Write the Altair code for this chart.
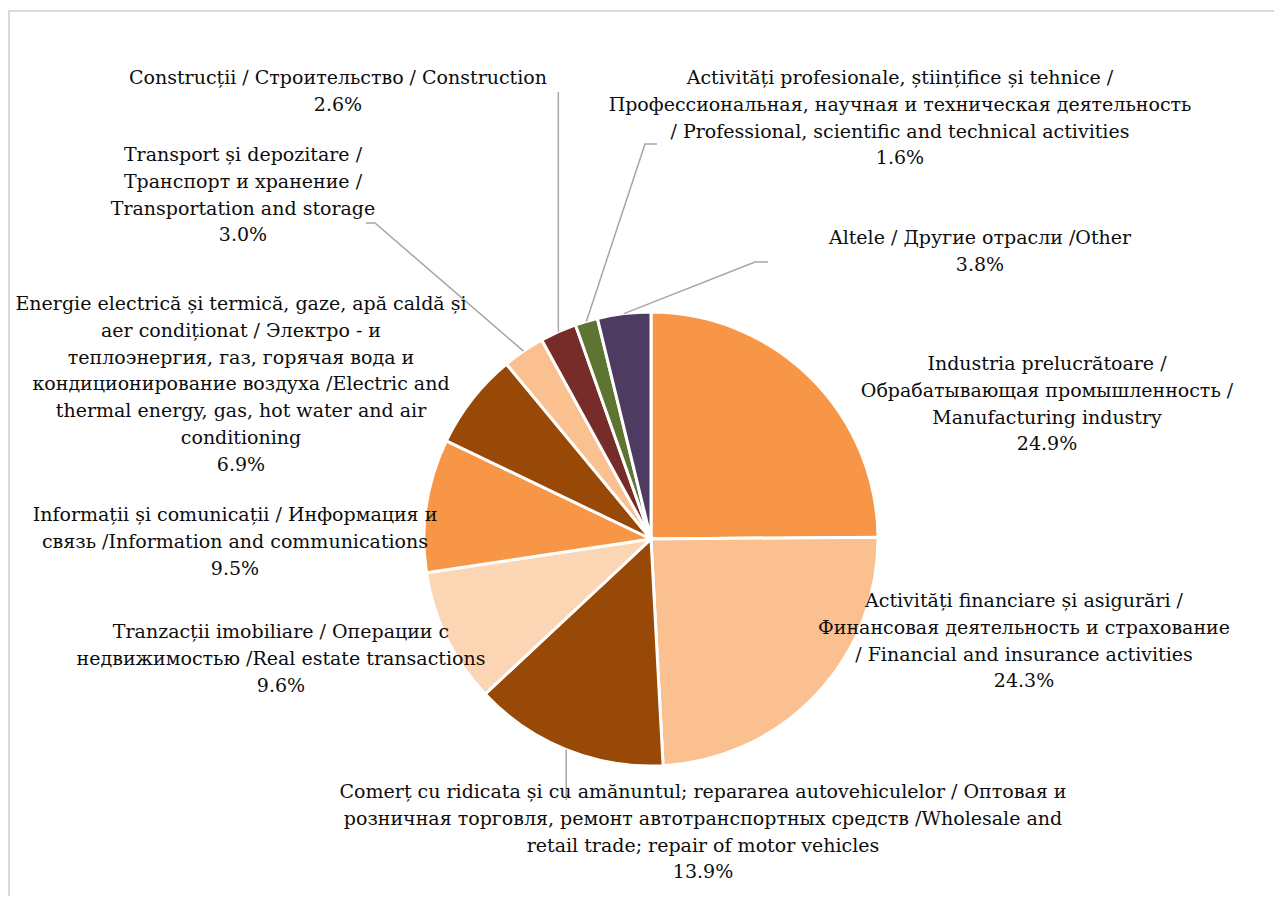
import math
import altair as alt
import pandas as pd

# ---------------- data ----------------
categories = [
    "Manufacturing", "Financial", "Commerce", "RealEstate", "Information",
    "Energy", "Transport", "Construction", "Professional", "Other",
]
values = [24.9, 24.3, 13.9, 9.6, 9.5, 6.9, 3.0, 2.6, 1.6, 3.8]
label_lines = [
    ["Industria prelucrătoare /", "Обрабатывающая промышленность /", "Manufacturing industry"],
    ["Activități financiare și asigurări  /", "Финансовая деятельность и страхование",
     "/ Financial and insurance activities"],
    ["Comerț cu ridicata și cu amănuntul; repararea autovehiculelor / Оптовая и",
     "розничная торговля,  ремонт автотранспортных средств /Wholesale and",
     "retail trade; repair of motor vehicles"],
    ["Tranzacții imobiliare / Операции с", "недвижимостью /Real estate transactions"],
    ["Informații și comunicații / Информация и", "связь /Information and communications"],
    ["Energie electrică și termică, gaze, apă caldă și", "aer condiționat / Электро - и",
     "теплоэнергия, газ, горячая вода и", "кондиционирование воздуха /Electric and",
     "thermal energy, gas, hot water and air", "conditioning"],
    ["Transport și depozitare /", "Транспорт  и хранение /", "Transportation and storage"],
    ["Construcții / Строительство / Construction"],
    ["Activități profesionale, științifice și tehnice /",
     "Профессиональная, научная и техническая деятельность",
     "/ Professional, scientific and technical activities"],
    ["Altele / Другие отрасли /Other"],
]
colors = ["#F79646", "#FAC090", "#984807", "#FCD5B5", "#F79646",
          "#984807", "#FAC090", "#772C2A", "#5E7431", "#4D3B61"]

# ---------------- layout (screen pixels) ----------------
OFF = 8                      # page margin
CX, CY, R = 651, 539, 227    # pie centre and radius
FONT = "DejaVu Serif"
FS = 19
LH = 26.8
label_pos = {                # centre of first line of each label
    "Manufacturing": (1047, 364),
    "Financial": (1024, 601),
    "Commerce": (703, 792),
    "RealEstate": (281, 632),
    "Information": (235, 515),
    "Energy": (241, 304),
    "Transport": (243, 155),
    "Construction": (338, 78),
    "Professional": (900, 78),
    "Other": (980, 238),
}
# leader line bends / ends; None x means "same x as start"
leader_ends = {
    "Construction": [(None, 92)],
    "Professional": [(645, 144), (657, 144)],
    "Other": [(755, 262), (768, 262)],
    "Transport": [(375, 223), (366, 223)],
    "Commerce": [(None, 800)],
}

# ---------------- tables ----------------
total = sum(values)
pie_df = pd.DataFrame({"cat": categories, "val": values, "ord": list(range(len(values)))})

lab_rows = []
for c, v, lines in zip(categories, values, label_lines):
    x, y = label_pos[c]
    lab_rows.append({"cat": c, "txt": "\n".join(lines + [f"{v:.1f}%"]),
                     "px": x - OFF, "py": y - OFF})
lab_df = pd.DataFrame(lab_rows)

line_rows = []
cum = 0.0
for c, v in zip(categories, values):
    mid = (cum + v / 2) / total * 2 * math.pi
    cum += v
    if c not in leader_ends:
        continue
    sx = CX + R * math.sin(mid)
    sy = CY - R * math.cos(mid)
    pts = [(sx, sy)] + [((sx if ex is None else ex), ey) for ex, ey in leader_ends[c]]
    for k, (px, py) in enumerate(pts):
        line_rows.append({"cat": c, "k": k, "px": px - OFF, "py": py - OFF})
line_df = pd.DataFrame(line_rows)

W, H = 1266, 888

frame = alt.Chart(pd.DataFrame({"a": [0]})).mark_rect(
    fillOpacity=0, stroke="#D9D9D9", strokeWidth=2
).encode(x=alt.value(1), y=alt.value(3), x2=alt.value(W + 50), y2=alt.value(H + 50))

arcs = alt.Chart(pie_df).mark_arc(
    radius=R, stroke="white", strokeWidth=3
).encode(
    theta=alt.Theta("val:Q", stack=True),
    order=alt.Order("ord:Q"),
    color=alt.Color("cat:N", scale=alt.Scale(domain=categories, range=colors), legend=None),
    x=alt.value(CX - OFF),
    y=alt.value(CY - OFF),
)

leaders = alt.Chart(line_df).mark_line(color="#A6A6A6", strokeWidth=1.5).encode(
    x=alt.X("px:Q", scale=None, axis=None),
    y=alt.Y("py:Q", scale=None, axis=None),
    detail="cat:N",
    order="k:Q",
)

labels = alt.Chart(lab_df).mark_text(
    font=FONT, fontSize=FS, lineHeight=LH, lineBreak="\n",
    align="center", baseline="middle", color="#0d0d0d"
).encode(
    x=alt.X("px:Q", scale=None, axis=None),
    y=alt.Y("py:Q", scale=None, axis=None),
    text="txt:N",
)

chart = alt.layer(frame, arcs, leaders, labels).properties(
    width=W, height=H, autosize="none", padding=0
).configure_view(stroke=None)

chart.save("out.html", embed_options={"renderer": "svg", "actions": False})
